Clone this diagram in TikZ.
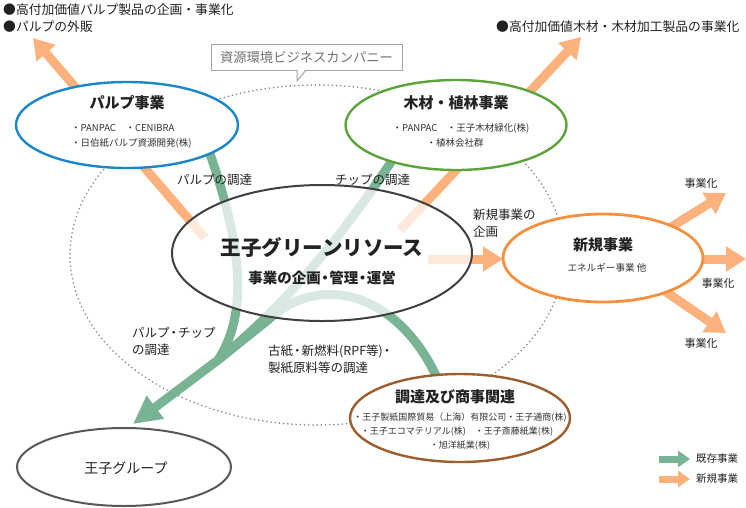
\documentclass[tikz,border=0pt]{standalone}
\usepackage{fontspec}
\setmainfont{Noto Sans CJK JP}
\usetikzlibrary{arrows.meta,shapes.geometric}
\definecolor{orgA}{HTML}{FDB27E}
\definecolor{grnA}{HTML}{78B394}
\definecolor{blueE}{HTML}{1A87C9}
\definecolor{greenE}{HTML}{5BA33A}
\definecolor{orangeE}{HTML}{F5913E}
\definecolor{brownE}{HTML}{9C5E2D}
\definecolor{txt}{HTML}{222222}
\definecolor{subtxt}{HTML}{333333}
\definecolor{dotc}{HTML}{888888}
\tikzset{
  oval/.style={ellipse, inner sep=0pt, line width=2.4pt, fill=white},
  orgarrow/.style={draw=orgA, line width=9pt, -{Triangle[length=20pt,width=24pt]}},
  grnstream/.style={draw=grnA, line width=9pt, line cap=round},
  grnarrow/.style={draw=grnA, line width=9pt, -{Triangle[length=28pt,width=27pt]}},
  title/.style={font=\bfseries\fontsize{15}{17}\selectfont, text=txt, inner sep=0pt},
  sub/.style={font=\fontsize{9.5}{11}\selectfont, text=subtxt, inner sep=0pt},
  lbl/.style={font=\fontsize{12.5}{17}\selectfont, text=txt, inner sep=0pt, anchor=west, align=left},
  toplbl/.style={font=\fontsize{12.8}{15}\selectfont, text=txt, inner sep=0pt, anchor=west},
  smalllbl/.style={font=\fontsize{11}{13}\selectfont, text=txt, inner sep=0pt},
  legendarrow/.style={line width=7pt, -{Triangle[length=12pt,width=16pt]}},
}
\begin{document}
\begin{tikzpicture}[x=1pt,y=-1pt]
\useasboundingbox (0,0) rectangle (746,507);
\fill[white] (0,0) rectangle (746,507);

% company dotted ellipse
\node[ellipse, inner sep=0pt, minimum width=494pt, minimum height=340pt,
  draw=dotc, line width=1.8pt, dash pattern=on 0pt off 4.2pt, line cap=round] (company) at (317,255) {};

% callout
\node[draw=gray!70, line width=1pt, fill=white, minimum width=191pt, minimum height=26pt, inner sep=0pt,
  font=\fontsize{13.3}{15}\selectfont, text=gray!90!black] (callout) at (306.5,57) {資源環境ビジネスカンパニー};
\fill[white] (297.5,69) -- (297.5,80) -- (305.5,69) -- cycle;
\draw[gray!70, line width=1pt] (297,70) -- (297,81) -- (306,70);

% coordinates for connectors
\coordinate (o1s) at (205,238);
\coordinate (o1e) at (33,38);
\coordinate (o2s) at (400,230);
\coordinate (o2e) at (581,37);
\coordinate (o3s) at (428,259);
\coordinate (o3e) at (503,259);
\coordinate (n1s) at (650,240);
\coordinate (n1e) at (726,193);
\coordinate (n2s) at (690,259);
\coordinate (n2e) at (746,259);
\coordinate (n3s) at (650,281);
\coordinate (n3e) at (726,333);
\coordinate (gA) at (207,145);
\coordinate (gB) at (397,153);
\coordinate (gC) at (438,380);
\coordinate (gCk) at (268,320);
\coordinate (gM) at (218,360);
\coordinate (gT) at (133,424);

% orange arrows
\draw[orgarrow] (o1s) -- (o1e);
\draw[orgarrow] (o2s) -- (o2e);
\draw[orgarrow] (o3s) -- (o3e);
\draw[orgarrow] (n1s) -- (n1e);
\draw[orgarrow] (n2s) -- (n2e);
\draw[orgarrow] (n3s) -- (n3e);

% green streams
\draw[grnstream] (gA) .. controls (235,225) and (254,305) .. (gM);
\draw[grnstream] (gB) .. controls (350,225) and (292,300) .. (gM);
\draw[grnstream] (gC) .. controls (400,295) and (322,270) .. (gCk) -- (gM);
\draw[grnarrow, line cap=round] (gM) -- (gT);

% ellipses
\node[ellipse, inner sep=0pt, minimum width=300pt, minimum height=136pt, fill=white, fill opacity=0.72,
  draw=black!75, draw opacity=1, line width=2pt] (green) at (322,253) {};
\node[oval, draw=blueE, minimum width=222pt, minimum height=86pt] (pulp) at (127,125) {};
\node[oval, draw=greenE, minimum width=221pt, minimum height=90pt] (wood) at (456,125) {};
\node[oval, draw=orangeE, minimum width=200pt, minimum height=88pt, line width=2.8pt] (newbiz) at (603,258) {};
\node[oval, draw=brownE, minimum width=220pt, minimum height=88pt] (trade) at (460,418) {};
\node[ellipse, inner sep=0pt, draw=black!65, line width=2pt, fill=white, minimum width=214pt, minimum height=78pt] (group) at (124,467) {};

% texts in ellipses
\node[title] (pulpT) at (127,103) {パルプ事業};
\node[sub, anchor=west] (pulpS1) at (71,128) {・PANPAC\quad ・CENIBRA};
\node[sub, anchor=west] (pulpS2) at (71,143) {・日伯紙パルプ資源開発(株)};

\node[title] (woodT) at (456,103) {木材・植林事業};
\node[sub] (woodS1) at (461,128) {・PANPAC\quad ・王子木材緑化(株)};
\node[sub] (woodS2) at (455,143) {・植林会社群};

\node[font=\bfseries\fontsize{20.5}{23}\selectfont, text=txt, inner sep=0pt] (greenT) at (322,248) {王子グリーンリソース};
\node[font=\bfseries\fontsize{14.5}{17}\selectfont, text=txt, inner sep=0pt] (greenS) at (322,278) {事業の企画\kern-3pt・\kern-3pt管理\kern-3pt・\kern-3pt運営};

\node[title] (newT) at (603,245) {新規事業};
\node[sub, font=\fontsize{9.6}{11}\selectfont] (newS) at (607,268) {エネルギー事業 他};

\node[title] (tradeT) at (455,397) {調達及び商事関連};
\node[sub, font=\fontsize{9}{11}\selectfont] (tradeS1) at (460,418) {・王子製紙国際貿易（上海）有限公司・王子通商(株)};
\node[sub, font=\fontsize{9}{11}\selectfont] (tradeS2) at (457,432) {・王子エコマテリアル(株)\quad ・王子斎藤紙業(株)};
\node[sub, font=\fontsize{9}{11}\selectfont] (tradeS3) at (460,446) {・旭洋紙業(株)};

\node[font=\fontsize{14}{16}\selectfont, text=txt, inner sep=0pt] (groupT) at (126,468) {王子グループ};

% top texts
\node[toplbl] (top1) at (3,10) {●高付加価値パルプ製品の企画・事業化};
\node[toplbl] (top2) at (3,27) {●パルプの外販};
\node[toplbl] (top3) at (496,27) {●高付加価値木材・木材加工製品の事業化};

% connector labels
\node[lbl] (l1) at (177,180) {パルプの調達};
\node[lbl] (l2) at (335,180) {チップの調達};
\node[lbl] (l3) at (473,223) {新規事業の\\企画};
\node[lbl] (l4) at (132,341) {パルプ\kern-2pt・\kern-2ptチップ\\の調達};
\node[lbl] (l5) at (268,359) {古紙\kern-2pt・\kern-2pt新燃料(RPF等)\kern-2pt・\\製紙原料等の調達};
\node[smalllbl] (b1) at (701,183) {事業化};
\node[smalllbl] (b2) at (718,283) {事業化};
\node[smalllbl] (b3) at (701,343) {事業化};

% legend
\coordinate (lg1s) at (659,459);
\coordinate (lg1e) at (690,459);
\coordinate (lg2s) at (659,479);
\coordinate (lg2e) at (690,479);
\draw[legendarrow, draw=grnA] (lg1s) -- (lg1e);
\draw[legendarrow, draw=orgA] (lg2s) -- (lg2e);
\node[smalllbl, font=\fontsize{10.5}{12}\selectfont, anchor=west] (lgT1) at (696,459) {既存事業};
\node[smalllbl, font=\fontsize{10.5}{12}\selectfont, anchor=west] (lgT2) at (696,479) {新規事業};
\end{tikzpicture}
\end{document}
